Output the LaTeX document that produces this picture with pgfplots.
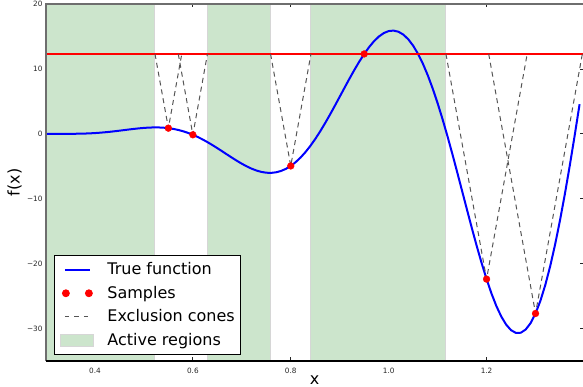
\documentclass[border=0pt]{standalone}
\usepackage{pgfplots}
\pgfplotsset{compat=1.18}
\usepackage{pgfplotstable}
\usepackage{fontspec}
\setmainfont{DejaVu Sans}
\definecolor{actgreen}{RGB}{204,229,204}
\definecolor{actedge}{RGB}{214,214,214}
\definecolor{spinegray}{RGB}{110,110,110}
\definecolor{conegray}{RGB}{85,85,85}

\pgfplotstableread{
x y
0.30 -0.0156
0.31 -0.0054
0.32 -0.0010
0.33 0.0000
0.34 0.0001
0.35 0.0020
0.36 0.0081
0.37 0.0206
0.38 0.0416
0.39 0.0727
0.40 0.1148
0.41 0.1684
0.42 0.2332
0.43 0.3084
0.44 0.3924
0.45 0.4829
0.46 0.5769
0.47 0.6708
0.48 0.7606
0.49 0.8417
0.50 0.9093
0.51 0.9584
0.52 0.9839
0.53 0.9809
0.54 0.9448
0.55 0.8712
0.56 0.7555
0.57 0.5990
0.58 0.3962
0.59 0.1460
0.60 -0.1494
0.61 -0.4890
0.62 -0.8698
0.63 -1.2873
0.64 -1.7361
0.65 -2.2088
0.66 -2.6974
0.67 -3.1923
0.68 -3.6829
0.69 -4.1581
0.70 -4.6057
0.71 -5.0134
0.72 -5.3683
0.73 -5.6580
0.74 -5.8702
0.75 -5.9933
0.76 -6.0167
0.77 -5.9309
0.78 -5.7281
0.79 -5.4022
0.80 -4.9491
0.81 -4.3669
0.82 -3.6562
0.83 -2.8202
0.84 -1.8649
0.85 -0.7985
0.86 0.3675
0.87 1.6192
0.88 2.9402
0.89 4.3114
0.90 5.7119
0.91 7.1188
0.92 8.5073
0.93 9.8522
0.94 11.1262
0.95 12.3032
0.96 13.3564
0.97 14.2596
0.98 14.9880
0.99 15.5183
1.00 15.8298
1.01 15.9040
1.02 15.7254
1.03 15.2828
1.04 14.5685
1.05 13.5791
1.06 12.3157
1.07 10.7845
1.08 8.9962
1.09 6.9663
1.10 4.7164
1.11 2.2712
1.12 -0.3391
1.13 -3.0802
1.14 -5.9140
1.15 -8.7992
1.16 -11.6912
1.17 -14.5442
1.18 -17.3096
1.19 -19.9392
1.20 -22.3845
1.21 -24.5973
1.22 -26.5321
1.23 -28.1450
1.24 -29.3962
1.25 -30.2500
1.26 -30.6745
1.27 -30.6457
1.28 -30.1436
1.29 -29.1567
1.30 -27.6799
1.31 -25.7163
1.32 -23.2764
1.33 -20.3795
1.34 -17.0522
1.35 -13.3297
1.36 -9.2546
1.37 -4.8759
1.38 -0.2512
1.39 4.5578
}\truefn

\pgfplotstableread{
x y
0.55 0.8712
0.60 -0.1494
0.80 -4.9491
0.95 12.3032
1.20 -22.3845
1.30 -27.6799
}\samples

\begin{document}
\begin{tikzpicture}
\begin{axis}[
  at={(0,0)}, anchor=south west,
  scale only axis, width=537pt, height=357pt,
  xmin=0.3, xmax=1.397, ymin=-35, ymax=20,
  clip mode=individual,
  axis line style={draw=none},
  tick align=inside, major tick length=3.5pt,
  tick style={black!85, line width=0.8pt},
  xtick={0.4,0.6,0.8,1.0,1.2}, xticklabels={0.4,0.6,0.8,1.0,1.2},
  ytick={-30,-20,-10,0,10,20}, yticklabels={−30,−20,−10,0,10,20},
  ticklabel style={font=\fontsize{7.3}{8}\selectfont, text=black!85},
  xticklabel style={yshift=-3.9pt},
  xlabel={x}, ylabel={f(x)},
  label style={font=\fontsize{16}{18}\selectfont},
  xlabel style={at={(axis description cs:0.5,-0.066)}, anchor=base},
  ylabel style={at={(axis description cs:-0.049,0.5)}, anchor=base},
  legend style={at={(axis description cs:0.0149,0.0168)}, anchor=south west,
    draw=black, line width=0.8pt, fill=white,
    font=\fontsize{16}{18}\selectfont,
    inner xsep=6pt, inner ysep=6.5pt, row sep=8.67pt, column sep=13pt,
    nodes={inner sep=0pt, text height=12.5pt, text depth=2.5pt}},
  legend cell align=left,
]
\addlegendimage{legend image code/.code={\draw[blue,line width=2pt] (0pt,0pt)--(25pt,0pt);}}
\addlegendentry{True function}
\addlegendimage{legend image code/.code={\fill[red] (1pt,0pt) circle[radius=3.5pt]; \fill[red] (24pt,0pt) circle[radius=3.5pt];}}
\addlegendentry{Samples}
\addlegendimage{legend image code/.code={\draw[conegray,line width=1pt,dash pattern=on 4.5pt off 5pt] (0pt,0pt)--(25pt,0pt);}}
\addlegendentry{Exclusion cones}
\addlegendimage{legend image code/.code={\draw[fill=actgreen,draw=actedge,line width=1pt] (-4pt,-6pt) rectangle (29pt,6pt);}}
\addlegendentry{Active regions}

% active regions
\addplot[forget plot, fill=actgreen, draw=actedge, line width=1pt] coordinates {(0.28,-40) (0.28,25) (0.52265,25) (0.52265,-40)} -- cycle;
\addplot[forget plot, fill=actgreen, draw=actedge, line width=1pt] coordinates {(0.62979,-40) (0.62979,25) (0.75873,25) (0.75873,-40)} -- cycle;
\addplot[forget plot, fill=actgreen, draw=actedge, line width=1pt] coordinates {(0.84127,-40) (0.84127,25) (1.11702,25) (1.11702,-40)} -- cycle;

% true function
\addplot[forget plot, blue, line width=2pt] table {\truefn};

% best value
\addplot[forget plot, red, line width=1.1pt] coordinates {(0.28,12.3032) (1.42,12.3032)};

% exclusion cones
\addplot[forget plot, conegray, line width=1pt, dash pattern=on 5pt off 4pt] coordinates {(0.52265,12.3032) (0.55,0.8712) (0.57735,12.3032)};
\addplot[forget plot, conegray, line width=1pt, dash pattern=on 5pt off 4pt] coordinates {(0.57021,12.3032) (0.60,-0.1494) (0.62979,12.3032)};
\addplot[forget plot, conegray, line width=1pt, dash pattern=on 5pt off 4pt] coordinates {(0.75873,12.3032) (0.80,-4.9491) (0.84127,12.3032)};
\addplot[forget plot, conegray, line width=1pt, dash pattern=on 5pt off 4pt] coordinates {(1.11702,12.3032) (1.20,-22.3845) (1.28298,12.3032)};
\addplot[forget plot, conegray, line width=1pt, dash pattern=on 5pt off 4pt] coordinates {(1.20435,12.3032) (1.30,-27.6799) (1.39565,12.3032)};

% samples
\addplot[forget plot, only marks, mark=*, mark size=3.4pt, red, mark options={draw=red, fill=red}] table {\samples};
\end{axis}
\draw[spinegray, line width=2pt] (0pt,0pt) -- (0pt,357pt) -- (537pt,357pt);
\draw[black, line width=1.5pt] (0pt,0pt) -- (537pt,0pt);
\pgfresetboundingbox
\useasboundingbox (-46pt,-26pt) rectangle (537pt,361pt);
\end{tikzpicture}
\end{document}
